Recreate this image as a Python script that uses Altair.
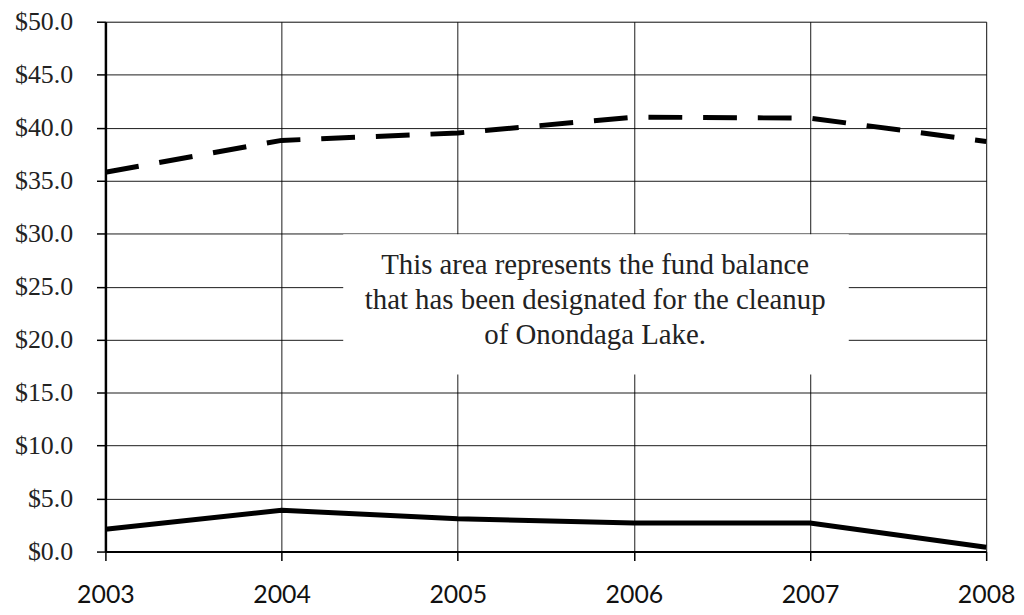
import altair as alt
import pandas as pd

years = [2003, 2004, 2005, 2006, 2007, 2008]
dashed_series = [35.8, 38.8, 39.5, 41.0, 40.9, 38.7]
solid_series = [2.1, 3.9, 3.1, 2.7, 2.7, 0.4]
y_ticks = [0, 5, 10, 15, 20, 25, 30, 35, 40, 45, 50]

note_lines = ["This area represents the fund balance",
              "that has been designated for the cleanup",
              "of Onondaga Lake."]
note_anchor_x = [2005.78]
note_anchor_y = [26.2]
note_box_x = [2004.35, 2007.22]
note_box_y = [16.7, 29.95]

df = pd.DataFrame({
    "year": years * 2,
    "value": dashed_series + solid_series,
    "series": ["dashed"] * 6 + ["solid"] * 6,
})

x_scale = alt.Scale(domain=[2003, 2008], nice=False, zero=False)
y_scale = alt.Scale(domain=[0, 50], nice=False)

x_axis = alt.Axis(values=years, format="d", title=None, grid=True,
                  gridColor="#000", gridWidth=1, gridOpacity=0.9,
                  domainColor="#000", domainWidth=2,
                  tickColor="#000", tickSize=9, tickWidth=1.5,
                  labelFont="Lato", labelFontSize=25, labelColor="#111",
                  labelPadding=22, labelFlush=False, labelOverlap=False)
y_axis = alt.Axis(values=y_ticks, format="$.1f", title=None, grid=True,
                  gridColor="#000", gridWidth=1, gridOpacity=0.9,
                  domainColor="#000", domainWidth=2.5,
                  tickColor="#000", tickSize=9, tickWidth=1.5,
                  labelFont="Liberation Serif", labelFontSize=26, labelColor="#222",
                  labelPadding=24, labelFlush=False, labelOverlap=False)

base = alt.Chart(df)

dashed = base.transform_filter(alt.datum.series == "dashed").mark_line(
    color="#000", strokeWidth=5, strokeDash=[34, 21], strokeCap="butt"
).encode(
    x=alt.X("year:Q", scale=x_scale, axis=x_axis),
    y=alt.Y("value:Q", scale=y_scale, axis=y_axis),
)

solid = base.transform_filter(alt.datum.series == "solid").mark_line(
    color="#000", strokeWidth=5
).encode(
    x=alt.X("year:Q", scale=x_scale),
    y=alt.Y("value:Q", scale=y_scale),
)

box_df = pd.DataFrame({"x1": [note_box_x[0]], "x2": [note_box_x[1]],
                       "y1": [note_box_y[0]], "y2": [note_box_y[1]]})
box = alt.Chart(box_df).mark_rect(color="white").encode(
    x=alt.X("x1:Q", scale=x_scale), x2="x2:Q",
    y=alt.Y("y1:Q", scale=y_scale), y2="y2:Q",
)

text_df = pd.DataFrame({"x": note_anchor_x, "y": note_anchor_y,
                        "t": ["\n".join(note_lines)]})
note = alt.Chart(text_df).mark_text(
    font="Liberation Serif", fontSize=29, color="#222", align="center",
    baseline="alphabetic", lineBreak="\n", lineHeight=35
).encode(
    x=alt.X("x:Q", scale=x_scale),
    y=alt.Y("y:Q", scale=y_scale),
    text="t:N",
)

chart = alt.layer(dashed, box, note, solid).properties(
    width=886, height=533,
    autosize=alt.AutoSizeParams(type="none"),
    padding={"left": 98, "top": 12, "right": 30, "bottom": 60},
).configure_view(stroke=None).configure(background="white")

chart.save("out.html", embed_options={"renderer": "svg", "actions": False})
